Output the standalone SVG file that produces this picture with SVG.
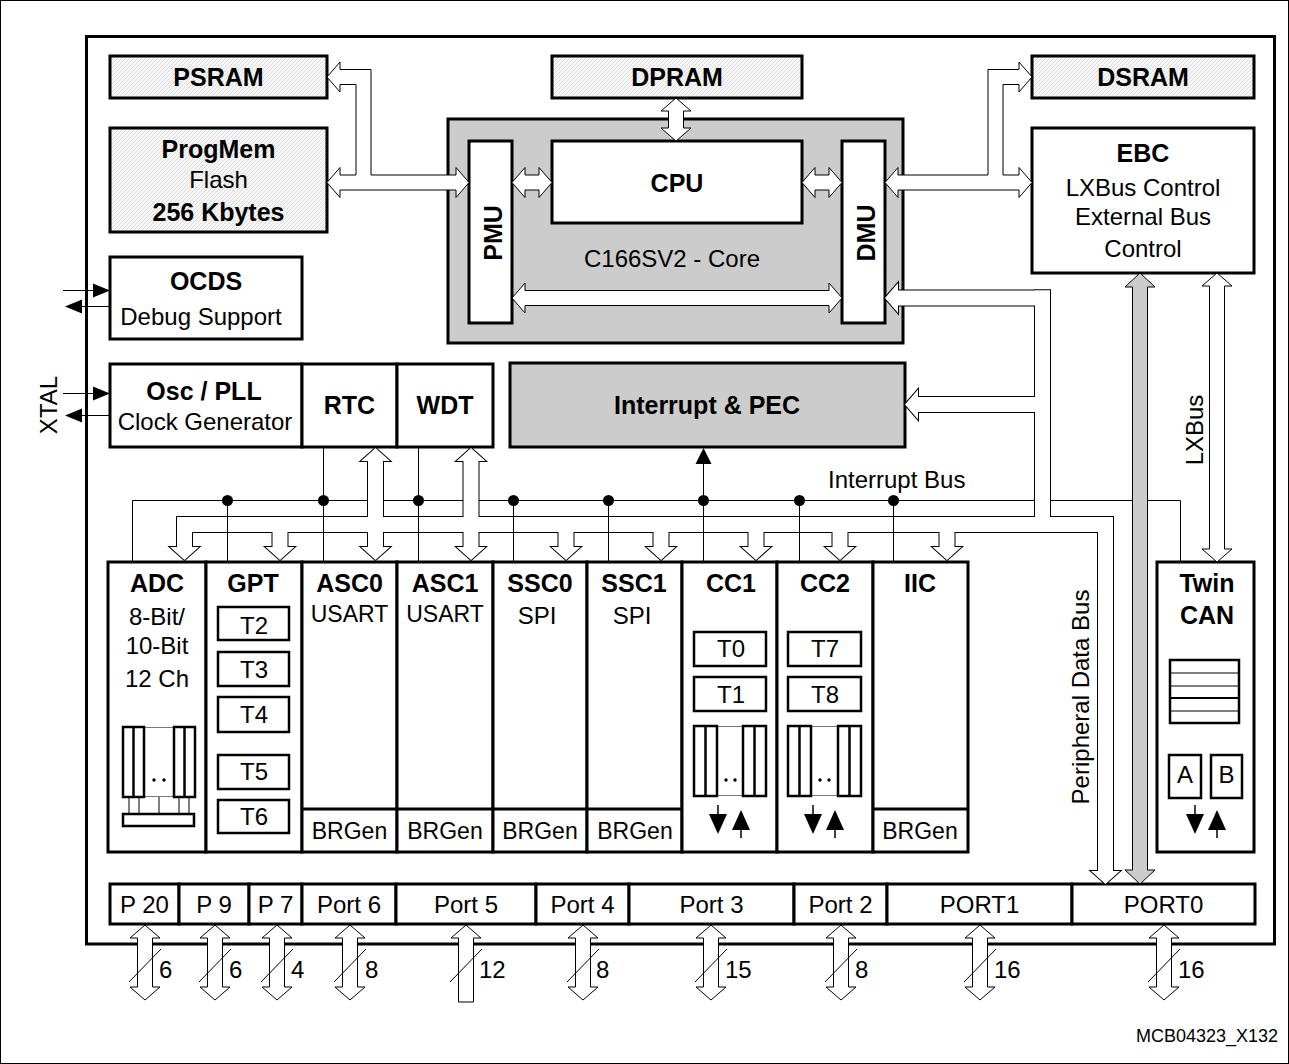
<svg xmlns="http://www.w3.org/2000/svg" xmlns:xlink="http://www.w3.org/1999/xlink" width="1289" height="1064" viewBox="0 0 1289 1064">
<style>
.box{fill:#fff;stroke:#000;stroke-width:3}
.hbox{fill:url(#hatch);stroke:#000;stroke-width:3}
.gbox{fill:#ccc;stroke:#000;stroke-width:3}
.sbox{fill:#fff;stroke:#000;stroke-width:2.5}
.arr{fill:#fff;stroke:#000;stroke-width:1}
.garr{fill:#ccc;stroke:#000;stroke-width:1}
.thin{fill:none;stroke:#000;stroke-width:1}
.gl{fill:none;stroke:#777;stroke-width:1}
.b{font-family:"Liberation Sans",Arial,sans-serif;font-weight:bold;font-size:25px;text-anchor:middle;fill:#000}
.r{font-family:"Liberation Sans",Arial,sans-serif;font-size:24px;text-anchor:middle;fill:#000}
.s{font-family:"Liberation Sans",Arial,sans-serif;font-size:23px;text-anchor:middle;fill:#000}
.n{font-family:"Liberation Sans",Arial,sans-serif;font-size:24px;fill:#000}
</style>
<defs>
<pattern id="hatch" width="4" height="4" patternUnits="userSpaceOnUse">
<rect width="4" height="4" fill="#f6f6f6"/>
<path d="M-1,1 l2,-2 M0,4 l4,-4 M3,5 l2,-2" stroke="#cfcfcf" stroke-width="0.6"/>
</pattern>
<path id="pa" d="M0,925 L15,938 L7.5,938 L7.5,987 L15,987 L0,1000 L-15,987 L-7.5,987 L-7.5,938 L-15,938 Z"/>
<line id="sl" x1="-16" y1="982" x2="16" y2="949"/>
<path id="dn" d="M-7.5,520 H7.5 V547 H14.5 L0,560 L-14.5,547 H-7.5 Z"/>
<path id="up" d="M-7.5,530 V461 H-14.5 L0,448 L14.5,461 H7.5 V530 Z"/>
<g id="busShapes">
<path d="M885,298 L898,283 V290.5 H1050 V305.5 H898 V313 Z"/>
<path d="M1035,290.5 H1050 V532 H1035 Z"/>
<path d="M905,404.5 L918,389.5 V397 H1042 V412 H918 V419.5 Z"/>
<path d="M177,517 H1113 V532 H177 Z"/>
<path d="M1098,520 H1113 V871 H1120 L1105.5,884 L1091,871 H1098 Z"/>
<path d="M177,520 H192 V547 H199 L184.5,560 L170,547 H177 Z"/>
<use xlink:href="#dn" x="280"/>
<use xlink:href="#dn" x="375.5"/>
<use xlink:href="#dn" x="471"/>
<use xlink:href="#dn" x="566"/>
<use xlink:href="#dn" x="661"/>
<use xlink:href="#dn" x="756"/>
<use xlink:href="#dn" x="840"/>
<use xlink:href="#dn" x="947"/>
<use xlink:href="#up" x="375.5"/>
<use xlink:href="#up" x="471"/>
</g>
<g id="dA"><line x1="0" y1="805" x2="0" y2="818" stroke="#000" stroke-width="1.5"/><path d="M-9,814 H9 L0,834 Z" fill="#000"/></g>
<g id="uA"><path d="M0,810 L-9,830 H9 Z" fill="#000"/><line x1="0" y1="829" x2="0" y2="838" stroke="#000" stroke-width="1.5"/></g>
</defs>

<rect x="0.5" y="0.5" width="1288" height="1063" fill="#fff" stroke="#000" stroke-width="1"/>
<rect id="chip" x="86.5" y="36.5" width="1188" height="907.5" fill="none" stroke="#000" stroke-width="3"/>

<g id="psram"><rect class="hbox" x="110" y="56" width="217" height="42"/><text class="b" x="218.5" y="86">PSRAM</text></g>
<g id="progmem"><rect class="hbox" x="110" y="128" width="217" height="104"/><text class="b" x="218.5" y="158">ProgMem</text><text class="r" x="218.5" y="188">Flash</text><text class="b" x="218.5" y="221">256 Kbytes</text></g>
<g id="dpram"><rect class="hbox" x="552" y="56" width="250" height="42"/><text class="b" x="677" y="86">DPRAM</text></g>
<g id="dsram"><rect class="hbox" x="1032" y="56" width="222" height="42"/><text class="b" x="1143" y="86">DSRAM</text></g>
<g id="core"><rect class="gbox" x="448" y="119" width="455" height="224"/><text class="r" x="672" y="267">C166SV2 - Core</text></g>
<g id="pmu"><rect class="box" x="469" y="141" width="43" height="182"/><text class="b" transform="translate(502,233) rotate(-90)">PMU</text></g>
<g id="cpu"><rect class="box" x="552" y="141" width="250" height="82"/><text class="b" x="677" y="192">CPU</text></g>
<g id="dmu"><rect class="box" x="842" y="141" width="43" height="182"/><text class="b" transform="translate(875,233) rotate(-90)">DMU</text></g>
<g id="ebc"><rect class="box" x="1032" y="128" width="222" height="145"/><text class="b" x="1143" y="162">EBC</text><text class="r" x="1143" y="196">LXBus Control</text><text class="r" x="1143" y="225">External Bus</text><text class="r" x="1143" y="257">Control</text></g>
<g id="ocds"><rect class="box" x="110" y="257" width="192" height="82"/><text class="b" x="206" y="290">OCDS</text><text class="r" x="201" y="325">Debug Support</text></g>
<g id="osc"><rect class="box" x="110" y="364" width="192" height="83"/><text class="b" x="204" y="400">Osc / PLL</text><text class="r" x="205" y="430">Clock Generator</text></g>
<g id="rtc"><rect class="box" x="302" y="364" width="95" height="83"/><text class="b" x="349.5" y="414">RTC</text></g>
<g id="wdt"><rect class="box" x="397" y="364" width="96" height="83"/><text class="b" x="445" y="414">WDT</text></g>
<g id="intpec"><rect class="gbox" x="510" y="363" width="395" height="84"/><text class="b" x="707" y="414">Interrupt &amp; PEC</text></g>

<g id="adc"><rect class="box" x="108" y="562" width="98" height="290"/>
<text class="b" x="157" y="592">ADC</text><text class="r" x="157" y="625">8-Bit/</text><text class="r" x="157" y="654">10-Bit</text><text class="r" x="157" y="687">12 Ch</text>
<path class="gl" d="M144,727.5 H174 M144,796.5 H174"/>
<rect class="sbox" x="123" y="727" width="21" height="70"/><line x1="133.5" y1="727" x2="133.5" y2="797" stroke="#000" stroke-width="2.5"/>
<rect class="sbox" x="174" y="727" width="21" height="70"/><line x1="184.5" y1="727" x2="184.5" y2="797" stroke="#000" stroke-width="2.5"/>
<circle cx="154" cy="780" r="1.7"/><circle cx="164" cy="780" r="1.7"/>
<path class="thin" d="M129,797 V814 M139,797 V814 M159,797 V814 M179,797 V814 M189,797 V814"/>
<rect class="sbox" x="123" y="814" width="71" height="12"/>
</g>
<g id="gpt"><rect class="box" x="206" y="562" width="96" height="290"/>
<text class="b" x="253" y="592">GPT</text>
<rect class="sbox" x="218" y="607" width="71" height="33"/><text class="r" x="254" y="634">T2</text>
<rect class="sbox" x="218" y="652" width="71" height="34"/><text class="r" x="254" y="678">T3</text>
<rect class="sbox" x="218" y="697" width="71" height="35"/><text class="r" x="254" y="723">T4</text>
<rect class="sbox" x="218" y="755" width="71" height="34"/><text class="r" x="254" y="780">T5</text>
<rect class="sbox" x="218" y="800" width="71" height="33"/><text class="r" x="254" y="825">T6</text>
</g>
<g id="asc0"><rect class="box" x="302" y="562" width="95" height="290"/><line x1="302" y1="809" x2="397" y2="809" stroke="#000" stroke-width="3"/>
<text class="b" x="349.5" y="592">ASC0</text><text class="s" x="349.5" y="622">USART</text><text class="s" x="349.5" y="839">BRGen</text></g>
<g id="asc1"><rect class="box" x="397" y="562" width="96" height="290"/><line x1="397" y1="809" x2="493" y2="809" stroke="#000" stroke-width="3"/>
<text class="b" x="445" y="592">ASC1</text><text class="s" x="445" y="622">USART</text><text class="s" x="445" y="839">BRGen</text></g>
<g id="ssc0"><rect class="box" x="493" y="562" width="94" height="290"/><line x1="493" y1="809" x2="587" y2="809" stroke="#000" stroke-width="3"/>
<text class="b" x="540" y="592">SSC0</text><text class="r" x="537" y="624">SPI</text><text class="s" x="540" y="839">BRGen</text></g>
<g id="ssc1"><rect class="box" x="587" y="562" width="95" height="290"/><line x1="587" y1="809" x2="682" y2="809" stroke="#000" stroke-width="3"/>
<text class="b" x="634" y="592">SSC1</text><text class="r" x="632" y="624">SPI</text><text class="s" x="635" y="839">BRGen</text></g>
<g id="cc1"><rect class="box" x="682" y="562" width="95" height="290"/>
<text class="b" x="731" y="592">CC1</text>
<rect class="sbox" x="694" y="632" width="72" height="34"/><text class="r" x="731" y="657">T0</text>
<rect class="sbox" x="694" y="677" width="72" height="34"/><text class="r" x="731" y="703">T1</text>
<path class="gl" d="M717,726.5 H743 M717,795.5 H743"/>
<rect class="sbox" x="694" y="726" width="23" height="70"/><line x1="705.5" y1="726" x2="705.5" y2="796" stroke="#000" stroke-width="2.5"/>
<rect class="sbox" x="743" y="726" width="23" height="70"/><line x1="754.5" y1="726" x2="754.5" y2="796" stroke="#000" stroke-width="2.5"/>
<circle cx="726" cy="780" r="1.7"/><circle cx="735" cy="780" r="1.7"/>
<use xlink:href="#dA" x="718"/><use xlink:href="#uA" x="741"/>
</g>
<g id="cc2"><rect class="box" x="777" y="562" width="96" height="290"/>
<text class="b" x="825" y="592">CC2</text>
<rect class="sbox" x="788" y="632" width="73" height="34"/><text class="r" x="825" y="657">T7</text>
<rect class="sbox" x="788" y="677" width="73" height="34"/><text class="r" x="825" y="703">T8</text>
<path class="gl" d="M811,726.5 H838 M811,795.5 H838"/>
<rect class="sbox" x="788" y="726" width="23" height="70"/><line x1="799.5" y1="726" x2="799.5" y2="796" stroke="#000" stroke-width="2.5"/>
<rect class="sbox" x="838" y="726" width="23" height="70"/><line x1="849.5" y1="726" x2="849.5" y2="796" stroke="#000" stroke-width="2.5"/>
<circle cx="820" cy="780" r="1.7"/><circle cx="829" cy="780" r="1.7"/>
<use xlink:href="#dA" x="813"/><use xlink:href="#uA" x="835"/>
</g>
<g id="iic"><rect class="box" x="873" y="562" width="95" height="290"/><line x1="873" y1="809" x2="968" y2="809" stroke="#000" stroke-width="3"/>
<text class="b" x="920" y="592">IIC</text><text class="s" x="920" y="839">BRGen</text></g>
<g id="twincan"><rect class="box" x="1157" y="562" width="97" height="290"/>
<text class="b" x="1207" y="592">Twin</text><text class="b" x="1207" y="624">CAN</text>
<rect class="sbox" x="1170" y="660" width="69" height="63"/>
<path d="M1170,673 H1239 M1170,686 H1239 M1170,711 H1239" stroke="#000" stroke-width="1"/>
<path d="M1170,698 H1239" stroke="#000" stroke-width="1.8"/>
<rect class="sbox" x="1169" y="755" width="32" height="43"/><text class="r" x="1185" y="783">A</text>
<rect class="sbox" x="1211" y="755" width="31" height="43"/><text class="r" x="1226.5" y="783">B</text>
<use xlink:href="#dA" x="1195"/><use xlink:href="#uA" x="1217"/>
</g>

<g id="p20"><rect class="box" x="110" y="884" width="69" height="40"/><text class="r" x="144.5" y="913">P 20</text></g>
<g id="p9"><rect class="box" x="179" y="884" width="70" height="40"/><text class="r" x="214" y="913">P 9</text></g>
<g id="p7"><rect class="box" x="249" y="884" width="53" height="40"/><text class="r" x="275.5" y="913">P 7</text></g>
<g id="port6"><rect class="box" x="302" y="884" width="94" height="40"/><text class="r" x="349" y="913">Port 6</text></g>
<g id="port5"><rect class="box" x="396" y="884" width="140" height="40"/><text class="r" x="466" y="913">Port 5</text></g>
<g id="port4"><rect class="box" x="536" y="884" width="93" height="40"/><text class="r" x="582.5" y="913">Port 4</text></g>
<g id="port3"><rect class="box" x="629" y="884" width="165" height="40"/><text class="r" x="711.5" y="913">Port 3</text></g>
<g id="port2"><rect class="box" x="794" y="884" width="93" height="40"/><text class="r" x="840.5" y="913">Port 2</text></g>
<g id="port1"><rect class="box" x="887" y="884" width="185" height="40"/><text class="r" x="979.5" y="913">PORT1</text></g>
<g id="port0"><rect class="box" x="1072" y="884" width="183" height="40"/><text class="r" x="1163.5" y="913">PORT0</text></g>

<g id="connectors">
<path class="thin" d="M132.5,562 V500.5 H1180.5 V562"/>
<polygon class="arr" points="676,98 691,111 683.5,111 683.5,128 691,128 676,141 661,128 668.5,128 668.5,111 661,111"/>
<polygon class="arr" points="512,182.5 525,167.5 525,175 539,175 539,167.5 552,182.5 539,197.5 539,190 525,190 525,197.5"/>
<polygon class="arr" points="802,182.5 815,167.5 815,175 829,175 829,167.5 842,182.5 829,197.5 829,190 815,190 815,197.5"/>
<polygon class="arr" points="512,298 525,283 525,290.5 829,290.5 829,283 842,298 829,313 829,305.5 525,305.5 525,313"/>
<polygon class="arr" points="327,77 340,62 340,69.5 371,69.5 371,175 456,175 456,167.5 469,182.5 456,197.5 456,190 340,190 340,197.5 327,182.5 340,167.5 340,175 356,175 356,84.5 340,84.5 340,92"/>
<polygon class="arr" points="885,182.5 898,167.5 898,175 988,175 988,69.5 1019,69.5 1019,62 1032,77 1019,92 1019,84.5 1003,84.5 1003,175 1019,175 1019,167.5 1032,182.5 1019,197.5 1019,190 898,190 898,197.5"/>
<use xlink:href="#busShapes" style="fill:#fff;stroke:#000;stroke-width:2"/>
<use xlink:href="#busShapes" style="fill:#fff;stroke:none"/>
<polygon class="garr" points="1140,273 1155,287 1147.5,287 1147.5,870 1155,870 1140,884 1125,870 1132.5,870 1132.5,287 1125,287"/>
<polygon class="arr" points="1217,273 1232,286 1224.5,286 1224.5,549 1232,549 1217,562 1202,549 1209.5,549 1209.5,286 1202,286"/>
<path class="thin" d="M227.5,500 V562 M323.5,447 V562 M418.5,447 V562 M513.5,500 V562 M608.5,500 V562 M703.5,462 V562 M799.5,500 V562 M893.5,500 V562"/>
<g fill="#000">
<circle cx="227.5" cy="500.5" r="5.5"/><circle cx="323.5" cy="500.5" r="5.5"/><circle cx="418.5" cy="500.5" r="5.5"/><circle cx="513.5" cy="500.5" r="5.5"/><circle cx="608.5" cy="500.5" r="5.5"/><circle cx="703.5" cy="500.5" r="5.5"/><circle cx="799.5" cy="500.5" r="5.5"/><circle cx="893.5" cy="500.5" r="5.5"/>
<polygon points="703.5,448 695.5,464 711.5,464"/>
</g>
<path class="thin" d="M63,290.5 H95 M110,306.5 H80 M63,393.5 H95 M110,415.5 H80"/>
<g fill="#000">
<polygon points="93,283.5 93,297.5 110,290.5"/>
<polygon points="82,299.5 82,313.5 65,306.5"/>
<polygon points="93,386.5 93,400.5 110,393.5"/>
<polygon points="82,408.5 82,422.5 65,415.5"/>
</g>
<g class="arr">
<use xlink:href="#pa" x="145"/><use xlink:href="#pa" x="215"/><use xlink:href="#pa" x="277"/><use xlink:href="#pa" x="350"/>
<polygon points="466,925 481,938 473.5,938 473.5,1002 458.5,1002 458.5,938 451,938"/>
<use xlink:href="#pa" x="583"/><use xlink:href="#pa" x="711"/><use xlink:href="#pa" x="841"/><use xlink:href="#pa" x="980"/><use xlink:href="#pa" x="1164"/>
</g>
<g class="thin">
<use xlink:href="#sl" x="145"/><use xlink:href="#sl" x="215"/><use xlink:href="#sl" x="277"/><use xlink:href="#sl" x="350"/><use xlink:href="#sl" x="466"/><use xlink:href="#sl" x="583"/><use xlink:href="#sl" x="711"/><use xlink:href="#sl" x="841"/><use xlink:href="#sl" x="980"/><use xlink:href="#sl" x="1164"/>
</g>
<g class="n">
<text x="159" y="978">6</text><text x="229" y="978">6</text><text x="291" y="978">4</text><text x="365" y="978">8</text><text x="479" y="978">12</text><text x="596" y="978">8</text><text x="725" y="978">15</text><text x="855" y="978">8</text><text x="994" y="978">16</text><text x="1178" y="978">16</text>
</g>
<text class="n" x="828" y="488">Interrupt Bus</text>
<text class="r" transform="translate(1089,697) rotate(-90)">Peripheral Data Bus</text>
<text class="r" transform="translate(1203,430) rotate(-90)">LXBus</text>
<text class="r" transform="translate(57,405) rotate(-90)">XTAL</text>
</g>

<text x="1278" y="1042" style="font-family:'Liberation Sans',Arial,sans-serif;font-size:18px;text-anchor:end">MCB04323_X132</text>
</svg>
